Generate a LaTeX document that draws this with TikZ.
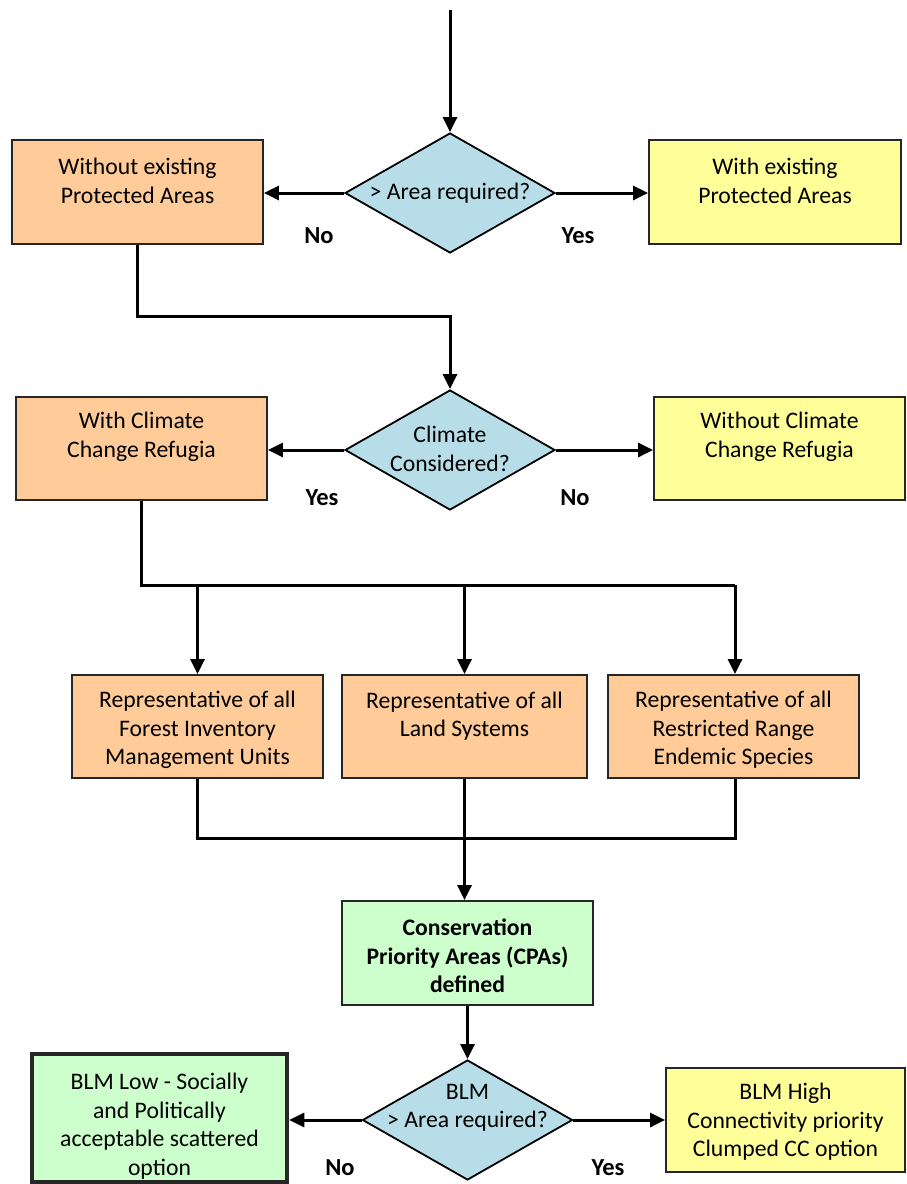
\documentclass[tikz,border=0pt]{standalone}
\usepackage{fontspec}
\setmainfont{Carlito}
\usetikzlibrary{arrows.meta,shapes.geometric}
\definecolor{orangefill}{HTML}{FFCC99}
\definecolor{yellowfill}{HTML}{FFFF99}
\definecolor{greenfill}{HTML}{CCFFCC}
\definecolor{tealfill}{HTML}{B7DEE8}
\tikzset{
  box/.style={draw=black!85, line width=1.8pt, rectangle, inner sep=0pt},
  orangebox/.style={box, fill=orangefill},
  yellowbox/.style={box, fill=yellowfill},
  greenbox/.style={box, fill=greenfill},
  decision/.style={draw=black, line width=1.8pt, diamond, fill=tealfill, inner sep=0pt, minimum width=210pt, minimum height=120pt, shape aspect=1.75},
  txt/.style={align=center, inner sep=0pt, font=\fontsize{23.7}{28.5}\selectfont},
  lbl/.style={inner sep=0pt, font=\fontsize{24.5}{28.5}\selectfont\bfseries},
  conn/.style={line width=3pt, draw=black},
  arr/.style={conn, -{Triangle[length=15pt,width=14pt]}}
}
\begin{document}
\begin{tikzpicture}[x=1pt,y=-1pt]
\useasboundingbox (0,0) rectangle (906,1184);
\fill[white] (0,0) rectangle (906,1184);

% decisions
\node[decision] (d1) at (450,193) {};
\node[txt] (d1t) at (450,193) {> Area required?};
\node[decision] (d2) at (450,450) {};
\node[txt] (d2t) at (450,449) {Climate\\Considered?};
\node[decision] (d3) at (467.5,1120) {};
\node[txt] (d3t) at (467.5,1108) {BLM\\> Area required?};

% boxes
\node[orangebox, minimum width=251pt, minimum height=104pt] (b1) at (137.5,192) {};
\node[txt] (b1t) at (137.5,181) {Without existing\\Protected Areas};
\node[yellowbox, minimum width=252pt, minimum height=104pt] (b2) at (775,192) {};
\node[txt] (b2t) at (775,181) {With existing\\Protected Areas};

\node[orangebox, minimum width=251pt, minimum height=103pt] (b3) at (141.5,448.5) {};
\node[txt] (b3t) at (141.5,437) {With Climate\\Change Refugia};
\node[yellowbox, minimum width=251pt, minimum height=103pt] (b4) at (779.5,448.5) {};
\node[txt] (b4t) at (779.5,437) {Without Climate\\Change Refugia};

\node[orangebox, minimum width=251pt, minimum height=103pt] (b5) at (197.5,726.5) {};
\node[txt] (b5t) at (197.5,730) {Representative of all\\Forest Inventory\\Management Units};
\node[orangebox, minimum width=245pt, minimum height=103pt] (b6) at (464.5,726.5) {};
\node[txt] (b6t) at (464.5,716) {Representative of all\\Land Systems};
\node[orangebox, minimum width=251pt, minimum height=103pt] (b7) at (733.5,726.5) {};
\node[txt] (b7t) at (733.5,730) {Representative of all\\Restricted Range\\Endemic Species};

\node[greenbox, minimum width=251pt, minimum height=104pt] (b8) at (467.5,953) {};
\node[txt, font=\fontsize{23.7}{28.5}\selectfont\bfseries] (b8t) at (467.5,956) {Conservation\\Priority Areas (CPAs)\\defined};

\node[greenbox, line width=4.5pt, minimum width=255pt, minimum height=128pt] (b9) at (159.5,1118) {};
\node[txt] (b9t) at (159.5,1126) {BLM Low - Socially\\and Politically\\acceptable scattered\\option};
\node[yellowbox, minimum width=239pt, minimum height=104pt] (b10) at (785.5,1120) {};
\node[txt] (b10t) at (785.5,1122) {BLM High\\Connectivity priority\\Clumped CC option};

% labels
\node[lbl] (l1) at (319,236) {No};
\node[lbl] (l2) at (578,236) {Yes};
\node[lbl] (l3) at (322,498) {Yes};
\node[lbl] (l4) at (575,498) {No};
\node[lbl] (l5) at (340,1168) {No};
\node[lbl] (l6) at (608,1168) {Yes};

% junction coordinates
\coordinate (top) at (450,10);
\coordinate (j1) at (450,316);
\coordinate (j2) at (735,585);
\coordinate (j3) at (735,838);

% connectors
\draw[arr] (top) -- (d1.north);
\draw[arr] (d1.west) -- (d1.west -| b1.east);
\draw[arr] (d1.east) -- (d1.east -| b2.west);
\draw[arr] (b1.south) |- (j1) -- (d2.north);
\draw[arr] (d2.west) -- (d2.west -| b3.east);
\draw[arr] (d2.east) -- (d2.east -| b4.west);
\draw[conn] (b3.south) |- (j2);
\draw[arr] (b5.north |- j2) -- (b5.north);
\draw[arr] (b6.north |- j2) -- (b6.north);
\draw[arr] (j2) -- (b7.north -| j2);
\draw[conn] (b5.south) |- (j3) -- (j3 |- b7.south);
\draw[arr] (b6.south) -- (b6.south |- b8.north);
\draw[arr] (b8.south) -- (d3.north);
\draw[arr] (d3.west) -- (d3.west -| b9.east);
\draw[arr] (d3.east) -- (d3.east -| b10.west);
\end{tikzpicture}
\end{document}
